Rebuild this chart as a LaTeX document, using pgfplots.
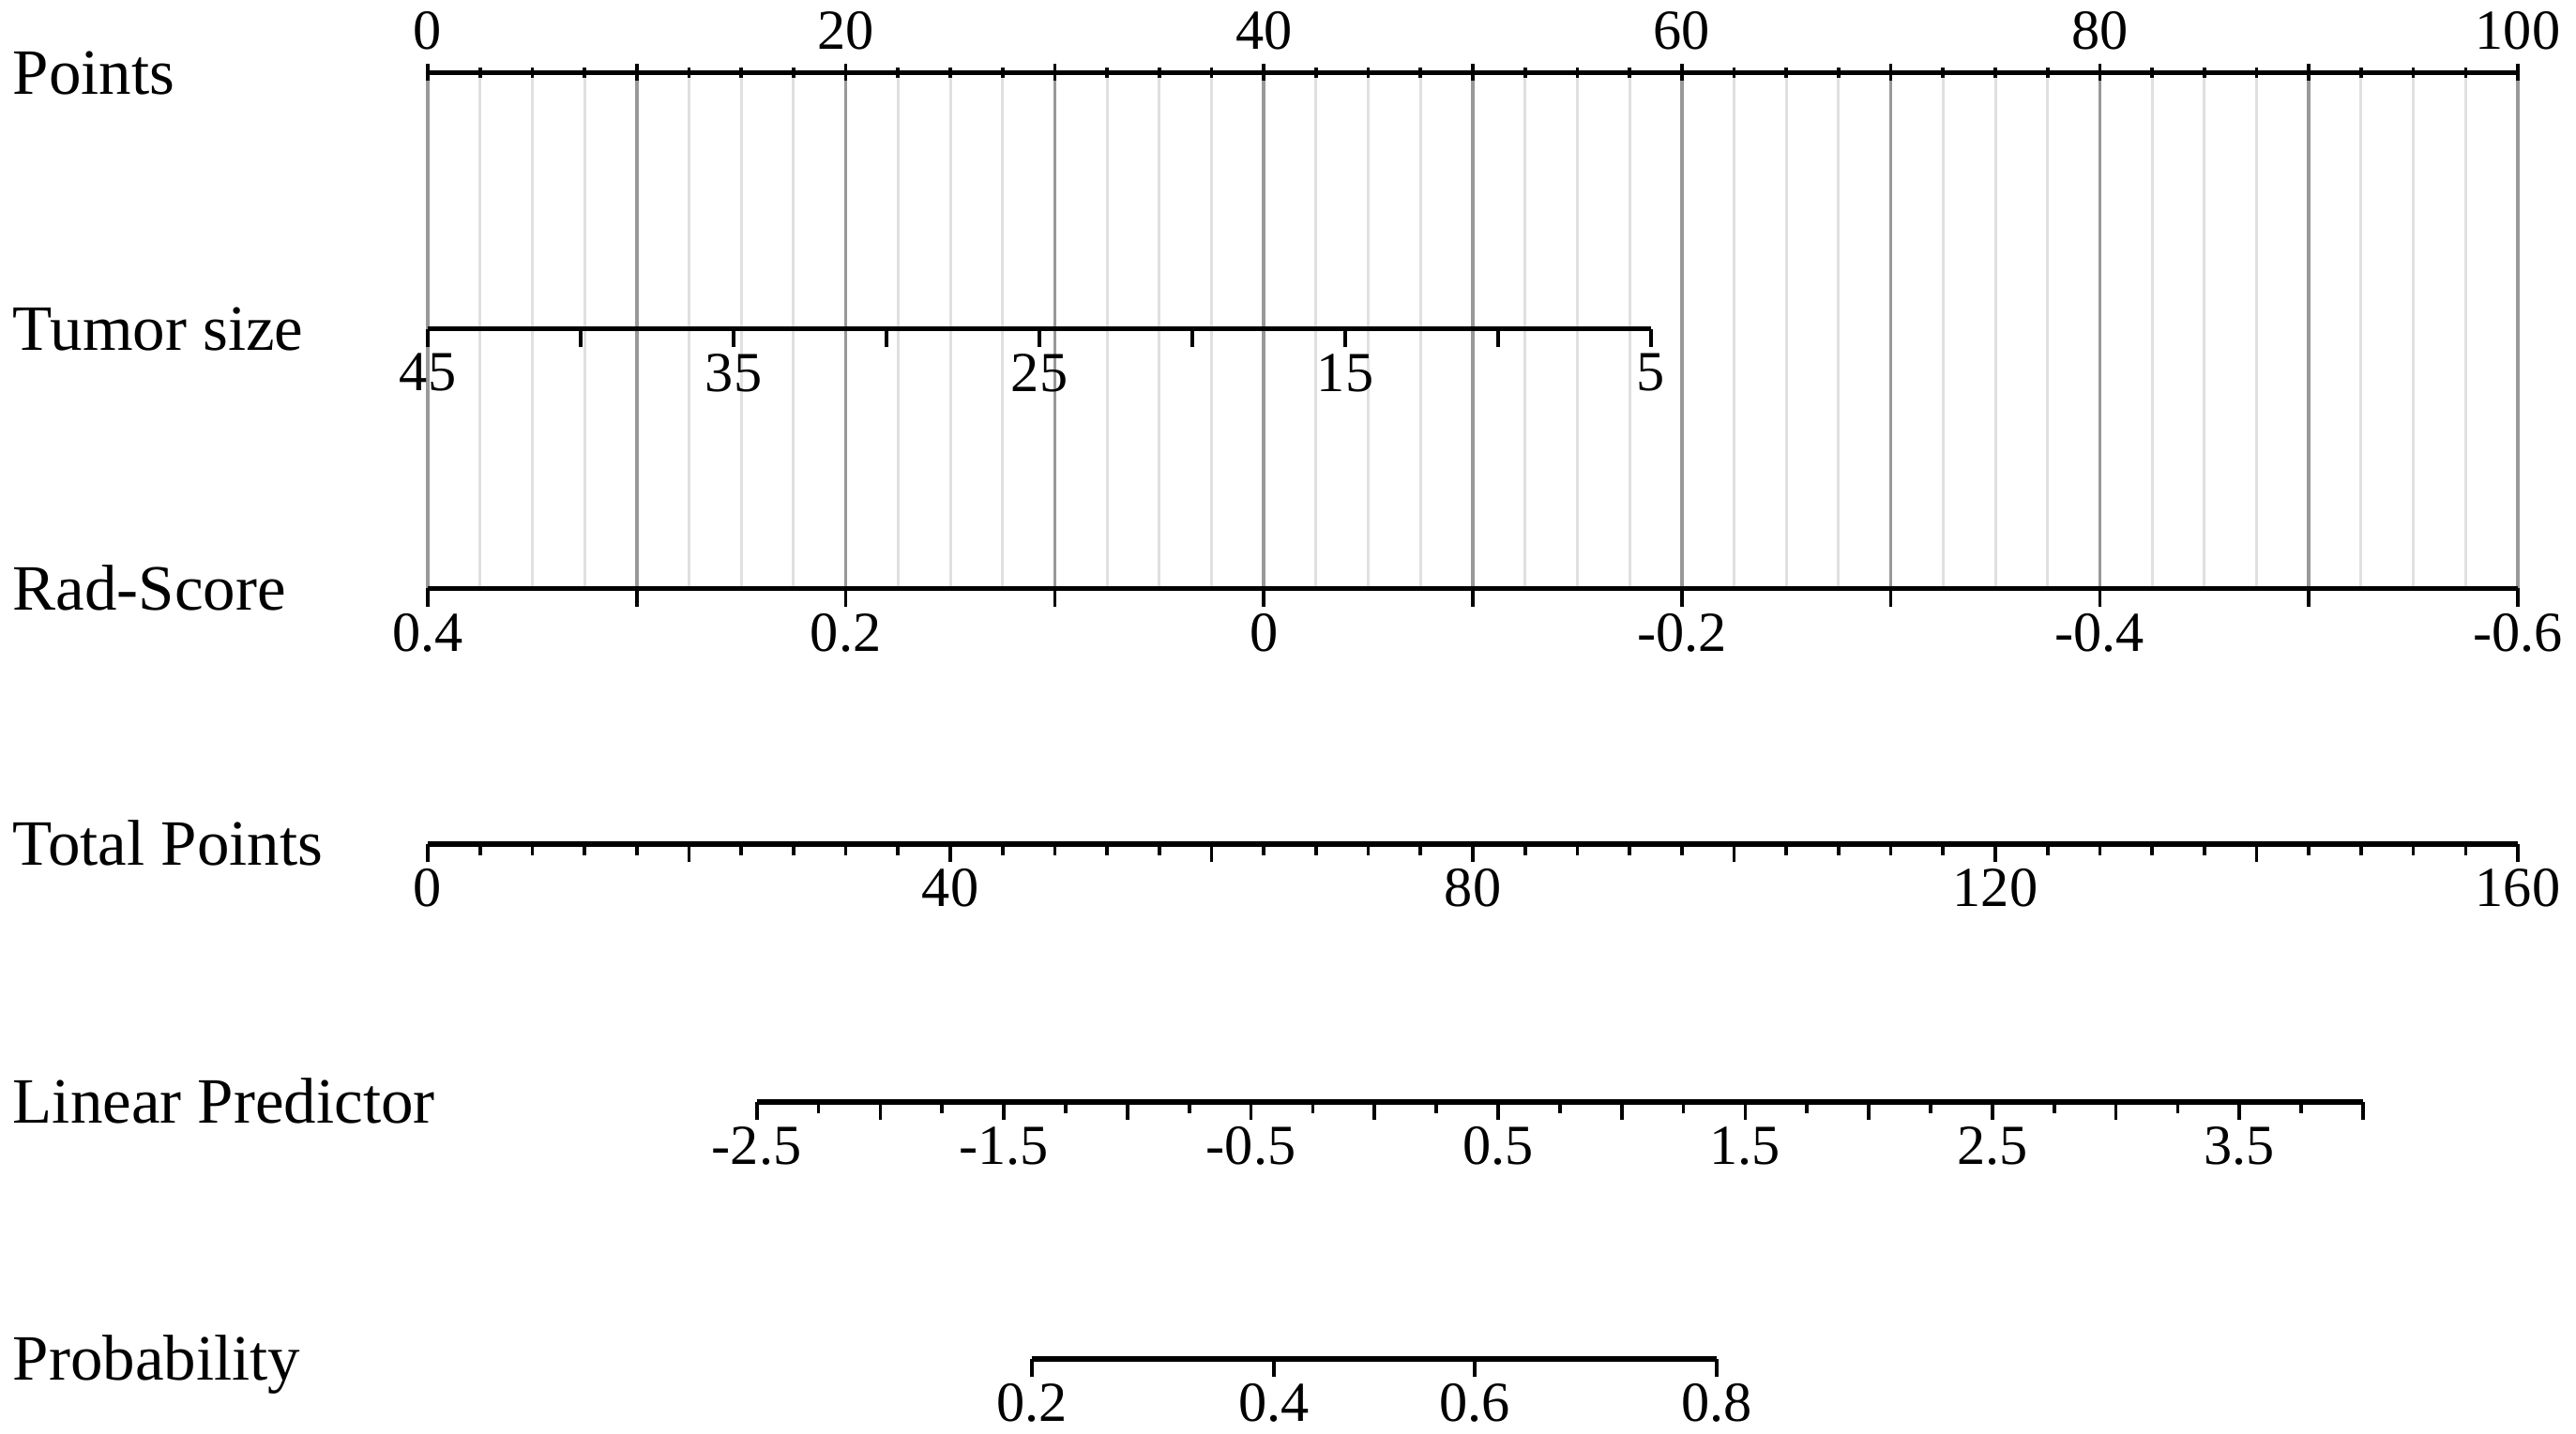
\documentclass[border=0pt]{standalone}
\usepackage{fontspec}
\setmainfont{Liberation Serif}
\usepackage{pgfplots}
\pgfplotsset{compat=1.18}

\pgfplotsset{
  nomo/.style={
    scale only axis, height=0.2cm,
    ymin=0, ymax=1,
    axis x line=bottom, axis y line=none,
    axis line style={-, line width=0.9pt, black},
    every outer x axis line/.append style={-},
    xtick align=outside,
    major tick length=1.1mm, minor tick length=0.68mm,
    every tick/.style={black, line width=0.6pt},
    tick label style={font=\fontsize{9.8}{11}\selectfont, inner sep=0pt},
    xticklabel style={anchor=north, yshift=-0.35mm},
    anchor=south west,
  },
}
\newcommand{\rowlab}[2]{\node[anchor=base west, inner sep=0pt, font=\fontsize{11.2}{13}\selectfont] at (0.072,#1) {#2};}

\begin{document}
\begin{tikzpicture}
% Points (with the reference grid down to Rad-Score)
\begin{axis}[nomo, at={(2.604cm,5.148cm)}, width=12.722cm, height=3.14cm,
  axis x line=top, x axis line style={-},
  xmin=0, xmax=100,
  xtick={0,10,...,100}, xticklabels={0,,20,,40,,60,,80,,100},
  minor x tick num=3,
  major tick length=1.03mm, minor tick length=0.61mm,
  xmajorgrids, xminorgrids,
  major grid style={draw=black!40, line width=0.6pt},
  minor grid style={draw=black!12, line width=0.5pt},
  xticklabel style={anchor=south, yshift=1.15mm}]
\end{axis}
% Tumor size
\begin{axis}[nomo, at={(2.604cm,6.728cm)}, width=7.446cm,
  x dir=reverse, xmin=5, xmax=45,
  xtick={5,10,15,20,25,30,35,40,45}, xticklabels={5,,15,,25,,35,,45}]
\end{axis}
% Rad-Score
\begin{axis}[nomo, at={(2.604cm,5.148cm)}, width=12.722cm,
  x dir=reverse, xmin=-0.6, xmax=0.4,
  xtick={-0.6,-0.5,-0.4,-0.3,-0.2,-0.1,0,0.1,0.2,0.3,0.4},
  xticklabels={-0.6,,-0.4,,-0.2,,0,,0.2,,0.4}]
\end{axis}
% Total Points
\begin{axis}[nomo, at={(2.604cm,3.59cm)}, width=12.722cm,
  xmin=0, xmax=160,
  xtick={0,20,...,160}, xticklabels={0,,40,,80,,120,,160},
  minor x tick num=4]
\end{axis}
% Linear Predictor
\begin{axis}[nomo, at={(4.606cm,2.02cm)}, width=9.778cm,
  xmin=-2.5, xmax=4,
  xtick={-2.5,-2,-1.5,-1,-0.5,0,0.5,1,1.5,2,2.5,3,3.5,4},
  xticklabels={-2.5,,-1.5,,-0.5,,0.5,,1.5,,2.5,,3.5,},
  minor x tick num=1]
\end{axis}
% Probability (positions on the linear predictor scale)
\begin{axis}[nomo, at={(6.28cm,0.456cm)}, width=4.17cm,
  xmin=-1.3863, xmax=1.3863,
  xtick={-1.3863,-0.4055,0.4055,1.3863},
  xticklabels={0.2,0.4,0.6,0.8}]
\end{axis}

\rowlab{8.158}{Points}
\rowlab{6.598}{Tumor size}
\rowlab{5.018}{Rad-Score}
\rowlab{3.46}{Total Points}
\rowlab{1.89}{Linear Predictor}
\rowlab{0.326}{Probability}

\pgfresetboundingbox
\path (0,0) rectangle (15.68,8.73);
\end{tikzpicture}
\end{document}
